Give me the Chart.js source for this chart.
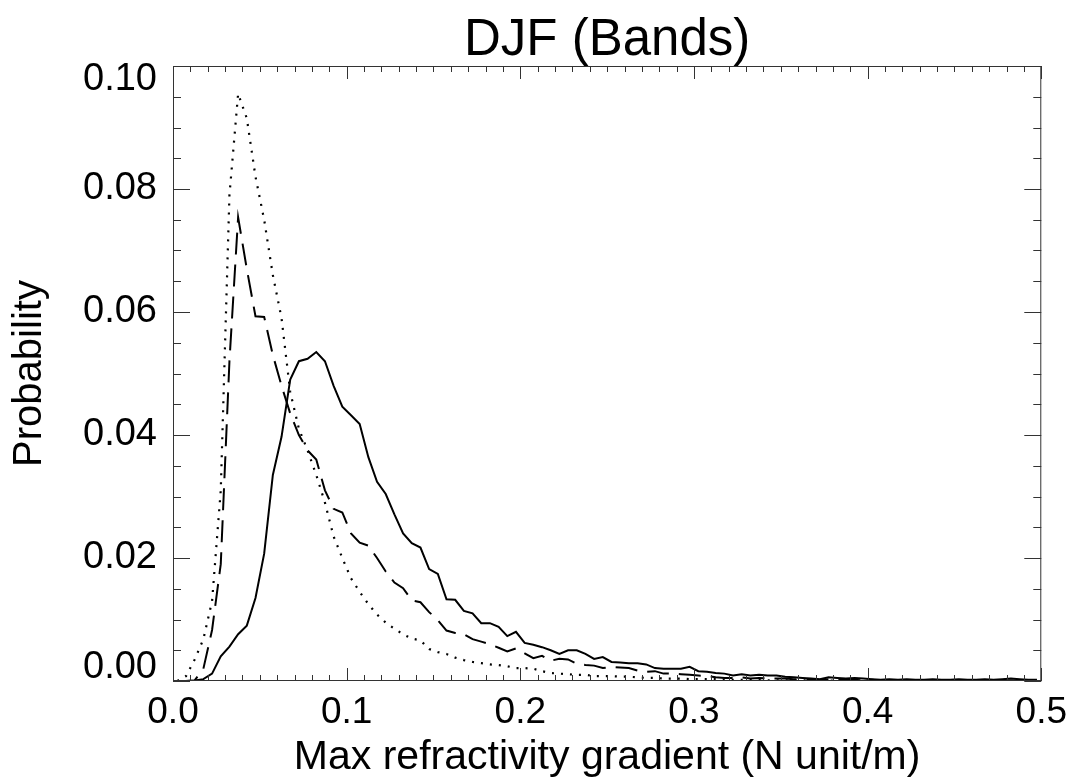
<!DOCTYPE html>
<html>
<head>
<meta charset="utf-8">
<script src="https://cdn.jsdelivr.net/npm/chart.js@4"></script>
<style>
  html, body { margin: 0; padding: 0; background: #fff; }
  #wrap { width: 1077px; height: 783px; }
</style>
</head>
<body>
<div id="wrap"><canvas id="grafica" width="1077" height="783"></canvas></div>
<script>
// centros de los bins (N unit/m)
var binCentres = [
  0.0025, 0.0075, 0.0125, 0.0175, 0.0225, 0.0275, 0.0325, 0.0375, 0.0425, 0.0475,
  0.0525, 0.0575, 0.0625, 0.0675, 0.0725, 0.0775, 0.0825, 0.0875, 0.0925, 0.0975,
  0.1025, 0.1075, 0.1125, 0.1175, 0.1225, 0.1275, 0.1325, 0.1375, 0.1425, 0.1475,
  0.1525, 0.1575, 0.1625, 0.1675, 0.1725, 0.1775, 0.1825, 0.1875, 0.1925, 0.1975,
  0.2025, 0.2075, 0.2125, 0.2175, 0.2225, 0.2275, 0.2325, 0.2375, 0.2425, 0.2475,
  0.2525, 0.2575, 0.2625, 0.2675, 0.2725, 0.2775, 0.2825, 0.2875, 0.2925, 0.2975,
  0.3025, 0.3075, 0.3125, 0.3175, 0.3225, 0.3275, 0.3325, 0.3375, 0.3425, 0.3475,
  0.3525, 0.3575, 0.3625, 0.3675, 0.3725, 0.3775, 0.3825, 0.3875, 0.3925, 0.3975,
  0.4025, 0.4075, 0.4125, 0.4175, 0.4225, 0.4275, 0.4325, 0.4375, 0.4425, 0.4475,
  0.4525, 0.4575, 0.4625, 0.4675, 0.4725, 0.4775, 0.4825, 0.4875, 0.4925, 0.4975
];

// linea continua
var solidProb = [
  0.0000, 0.0000, 0.0001, 0.0003, 0.0012, 0.0040, 0.0056, 0.0076, 0.0090, 0.0135,
  0.0207, 0.0335, 0.0397, 0.0490, 0.0520, 0.0524, 0.0535, 0.0520, 0.0480, 0.0446,
  0.0432, 0.0418, 0.0364, 0.0324, 0.0304, 0.0271, 0.0240, 0.0224, 0.0217, 0.0182,
  0.0174, 0.0133, 0.0132, 0.0114, 0.0110, 0.0094, 0.0094, 0.0088, 0.0073, 0.0080,
  0.0062, 0.0059, 0.0055, 0.0050, 0.0044, 0.0050, 0.0050, 0.0044, 0.0036, 0.0039,
  0.0031, 0.0030, 0.0029, 0.0029, 0.0027, 0.0021, 0.0020, 0.0020, 0.0020, 0.0023,
  0.0016, 0.0015, 0.0013, 0.0012, 0.0009, 0.0011, 0.0009, 0.0010, 0.0009, 0.0009,
  0.0007, 0.0006, 0.0005, 0.0004, 0.0003, 0.0006, 0.0005, 0.0004, 0.0005, 0.0004,
  0.0003, 0.0002, 0.0003, 0.0002, 0.0003, 0.0002, 0.0002, 0.0003, 0.0002, 0.0002,
  0.0003, 0.0002, 0.0002, 0.0003, 0.0002, 0.0003, 0.0004, 0.0003, 0.0002, 0.0002
];

// linea de trazos
var dashedProb = [
  0.0000, 0.0000, 0.0001, 0.0020, 0.0083, 0.0190, 0.0520, 0.0754, 0.0670, 0.0593,
  0.0592, 0.0530, 0.0480, 0.0435, 0.0400, 0.0375, 0.0360, 0.0310, 0.0280, 0.0274,
  0.0240, 0.0225, 0.0220, 0.0200, 0.0178, 0.0160, 0.0151, 0.0131, 0.0128, 0.0112,
  0.0099, 0.0082, 0.0078, 0.0076, 0.0068, 0.0064, 0.0060, 0.0054, 0.0048, 0.0053,
  0.0045, 0.0037, 0.0041, 0.0033, 0.0036, 0.0035, 0.0028, 0.0026, 0.0025, 0.0021,
  0.0023, 0.0022, 0.0021, 0.0017, 0.0015, 0.0016, 0.0012, 0.0012, 0.0011, 0.0010,
  0.0009, 0.0008, 0.0006, 0.0005, 0.0005, 0.0006, 0.0004, 0.0005, 0.0004, 0.0004,
  0.0004, 0.0003, 0.0003, 0.0003, 0.0002, 0.0003, 0.0002, 0.0002, 0.0002, 0.0001,
  0.0002, 0.0001, 0.0001, 0.0002, 0.0001, 0.0001, 0.0001, 0.0001, 0.0001, 0.0001,
  0.0001, 0.0001, 0.0001, 0.0000, 0.0001, 0.0001, 0.0001, 0.0001, 0.0000, 0.0001
];

// linea de puntos
var dottedProb = [
  0.0000, 0.0008, 0.0035, 0.0068, 0.0130, 0.0310, 0.0790, 0.0955, 0.0915, 0.0820,
  0.0750, 0.0660, 0.0590, 0.0470, 0.0410, 0.0375, 0.0335, 0.0290, 0.0235, 0.0200,
  0.0167, 0.0145, 0.0125, 0.0108, 0.0095, 0.0085, 0.0076, 0.0069, 0.0066, 0.0052,
  0.0047, 0.0044, 0.0038, 0.0034, 0.0031, 0.0029, 0.0027, 0.0026, 0.0024, 0.0021,
  0.0021, 0.0020, 0.0016, 0.0013, 0.0012, 0.0011, 0.0010, 0.0010, 0.0008, 0.0008,
  0.0008, 0.0007, 0.0007, 0.0006, 0.0005, 0.0005, 0.0004, 0.0004, 0.0004, 0.0003,
  0.0003, 0.0003, 0.0003, 0.0002, 0.0002, 0.0002, 0.0002, 0.0002, 0.0001, 0.0001,
  0.0001, 0.0001, 0.0001, 0.0001, 0.0001, 0.0001, 0.0000, 0.0001, 0.0000, 0.0000,
  0.0001, 0.0000, 0.0000, 0.0000, 0.0001, 0.0000, 0.0000, 0.0000, 0.0000, 0.0000,
  0.0000, 0.0000, 0.0000, 0.0000, 0.0000, 0.0000, 0.0000, 0.0000, 0.0000, 0.0000
];

var xTicks = [0.0, 0.1, 0.2, 0.3, 0.4, 0.5];
var yTicks = [0.00, 0.02, 0.04, 0.06, 0.08, 0.10];
var titulo = 'DJF (Bands)';

function puntos(serie) {
  return binCentres.map(function (x, i) { return { x: x, y: serie[i] }; });
}

// marco, marcas hacia dentro (estilo IDL) y titulo centrado sobre el area
var marcoPlugin = {
  id: 'marco',
  afterDatasetsDraw: function (chart) {
    var c = chart.ctx, a = chart.chartArea;
    var sx = chart.scales.x, sy = chart.scales.y;
    c.save();
    c.strokeStyle = '#333';
    c.lineWidth = 1;
    c.strokeRect(a.left + 0.5, a.top + 0.5, a.right - a.left - 1, a.bottom - a.top - 1);
    c.beginPath();
    for (var i = 0; i <= 50; i++) {
      var v = i * 0.01;
      var px = Math.round(sx.getPixelForValue(v)) + 0.5;
      var len = (i % 10 === 0) ? 13 : 6;
      c.moveTo(px, a.bottom); c.lineTo(px, a.bottom - len);
      c.moveTo(px, a.top); c.lineTo(px, a.top + len);
    }
    for (var j = 0; j <= 20; j++) {
      var w = j * 0.005;
      var py = Math.round(sy.getPixelForValue(w)) + 0.5;
      var l2 = (j % 4 === 0) ? 17 : 8;
      c.moveTo(a.left, py); c.lineTo(a.left + l2, py);
      c.moveTo(a.right, py); c.lineTo(a.right - l2, py);
    }
    c.stroke();
    c.fillStyle = '#000';
    c.font = 'normal 51px "Liberation Sans"';
    c.textAlign = 'center';
    c.textBaseline = 'alphabetic';
    c.fillText(titulo, (a.left + a.right) / 2, 55);
    c.restore();
  }
};

var ultimoY = yTicks.length - 1;

var ctx = document.getElementById('grafica').getContext('2d');
var grafica = new Chart(ctx, {
  type: 'line',
  data: {
    datasets: [
      { label: 'solid', data: puntos(solidProb), borderColor: '#000', borderWidth: 2, pointRadius: 0, tension: 0 },
      { label: 'dashed', data: puntos(dashedProb), borderColor: '#000', borderWidth: 2, borderDash: [22, 10], pointRadius: 0, tension: 0 },
      { label: 'dotted', data: puntos(dottedProb), borderColor: '#000', borderWidth: 2.2, borderDash: [2, 7], pointRadius: 0, tension: 0 }
    ]
  },
  options: {
    responsive: false,
    animation: false,
    devicePixelRatio: 1,
    layout: { padding: { left: 0, right: 34, top: 66, bottom: 0 } },
    plugins: {
      legend: { display: false },
      tooltip: { enabled: false },
      title: { display: false }
    },
    scales: {
      x: {
        type: 'linear',
        min: 0, max: 0.5,
        afterFit: function (s) { s.height = 102; },
        afterBuildTicks: function (s) { s.ticks = xTicks.map(function (v) { return { value: v }; }); },
        grid: { display: false, drawTicks: false },
        border: { display: false },
        ticks: {
          color: '#000', padding: 10, maxRotation: 0,
          font: { family: 'Liberation Sans', size: 37 },
          callback: function (v) { return v.toFixed(1); }
        },
        title: {
          display: true, text: 'Max refractivity gradient (N unit/m)', color: '#000',
          font: { family: 'Liberation Sans', size: 41 },
          padding: { top: 0, bottom: 1 }
        }
      },
      y: {
        type: 'linear',
        min: 0, max: 0.1,
        afterFit: function (s) { s.width = 173; },
        afterBuildTicks: function (s) { s.ticks = yTicks.map(function (v) { return { value: v }; }); },
        grid: { display: false, drawTicks: false },
        border: { display: false },
        ticks: {
          color: '#000', padding: 16,
          // las etiquetas de los extremos quedan dentro del eje, como en IDL
          font: function (c) {
            var extremo = c.index === 0 || c.index === ultimoY;
            return { family: 'Liberation Sans', size: 38, lineHeight: extremo ? 0.7 : 1.2 };
          },
          callback: function (v, i) {
            var t = v.toFixed(2);
            if (i === 0) return [t, ''];
            if (i === ultimoY) return ['', t];
            return t;
          }
        },
        title: {
          display: true, text: 'Probability', color: '#000',
          font: { family: 'Liberation Sans', size: 40 },
          padding: { top: 6, bottom: 0 }
        }
      }
    }
  },
  plugins: [marcoPlugin]
});
</script>
</body>
</html>
